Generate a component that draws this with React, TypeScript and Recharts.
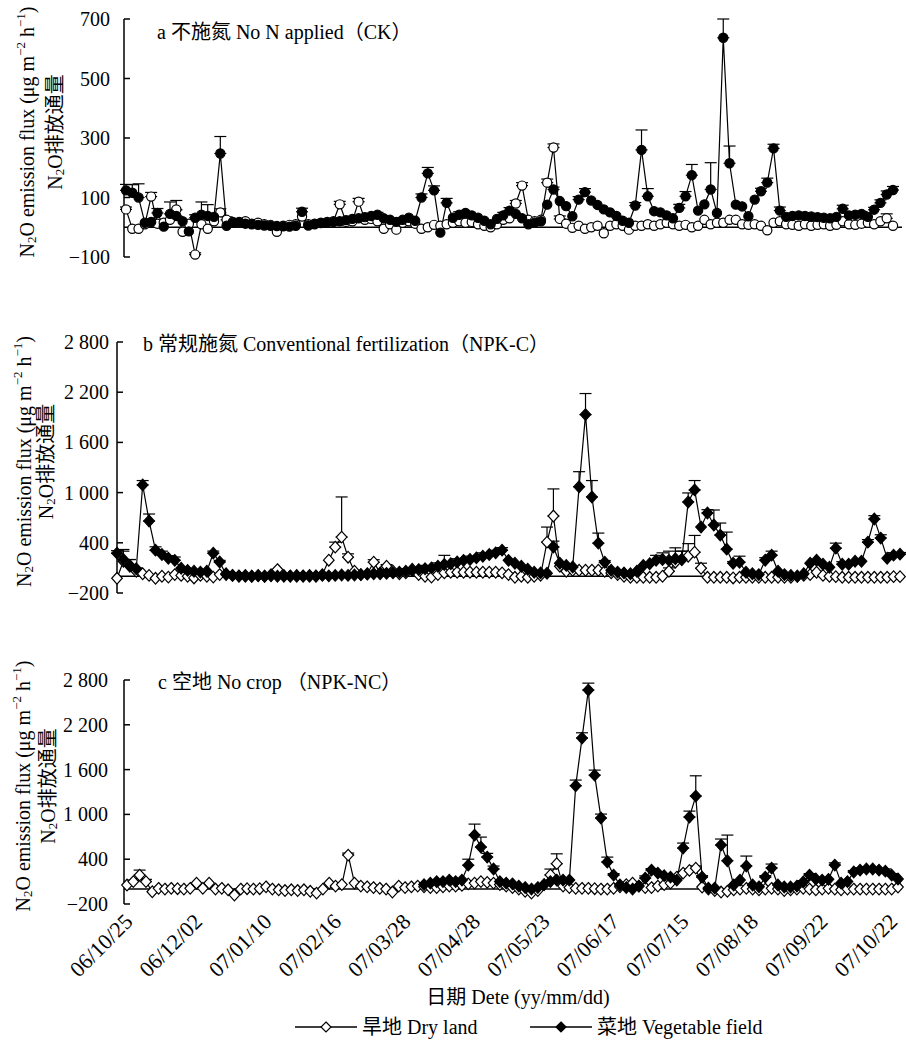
import React from 'react';
import { LineChart, Line, XAxis, YAxis, ReferenceLine, ErrorBar } from 'recharts';

const FONT = '"Liberation Serif", "Times New Roman", "Noto Sans CJK SC", serif';

// x-axis tick labels (one label every 11 sampling events)
const dateLabels = ['06/10/25', '06/12/02', '07/01/10', '07/02/16', '07/03/28', '07/04/28', '07/05/23', '07/06/17', '07/07/15', '07/08/18', '07/09/22', '07/10/22'];
const LABEL_STEP = 11;
const N_SAMPLES = 123;

// ---------- a: No N applied (CK) ----------
const aVeg = [
  124, 116, 100, 15, 18, 48, 2, 45, 38, 20,
  -14, 32, 42, 38, 35, 248, 5, 15, 18, 12,
  10, 8, 6, 5, 4, 3, 2, 5, 52, 6,
  10, 14, 16, 18, 20, 24, 28, 30, 34, 38,
  42, 30, 25, 18, 25, 32, 22, 100, 181, 124,
  -18, 82, 32, 42, 48, 40, 32, 22, 10, 28,
  40, 56, 45, 30, 10, 15, 20, 76, 127, 88,
  71, 37, 93, 118, 90, 75, 60, 50, 38, 22,
  15, 73, 260, 104, 54, 50, 40, 30, 65, 104,
  175, 56, 77, 127, 48, 637, 215, 76, 70, 37,
  93, 121, 150, 265, 56, 35, 38, 40, 38, 36,
  34, 32, 30, 35, 62, 40, 42, 45, 35, 59,
  82, 110, 125,
];
const aDry = [
  60, -5, -5, 10, 103, 12, 15, 25, 60, -15,
  12, -92, 10, -5, 20, 50, 25, 18, 15, 20,
  12, 15, 10, 8, -15, 5, 8, 10, 36, 10,
  12, 15, 18, 20, 77, 18, 20, 86, 25, 28,
  20, -5, 10, -8, 15, 20, 12, -5, 0, 8,
  5, 10, 15, 20, 15, 18, 10, 5, 0, 10,
  25, 30, 80, 140, 25, 20, 25, 150, 268, 28,
  12, -2, 5, -5, 0, 5, -20, 5, 10, 5,
  -8, 5, 5, 10, 5, 10, 15, 10, 5, 8,
  0, 5, 25, 10, 15, 15, 25, 25, 10, 8,
  10, 5, -10, 15, 20, 10, 8, 5, 10, 5,
  8, 10, 5, 8, 20, 10, 8, 12, 15, 10,
  20, 30, 5,
];
const aVegErr: Record<number, number> = { 0: 20, 1: 27, 2: 46, 4: 10, 5: 15, 7: 40, 8: 20, 11: 10, 12: 43, 13: 38, 15: 57, 28: 12, 40: 8, 47: 12, 48: 20, 49: 15, 51: 15, 53: 10, 60: 10, 61: 10, 68: 8, 72: 10, 73: 12, 81: 10, 82: 67, 83: 26, 88: 12, 89: 16, 90: 36, 93: 90, 95: 63, 96: 58, 101: 10, 102: 15, 103: 14, 104: 12, 114: 12, 117: 8, 119: 8, 120: 10, 121: 12, 122: 12 };
const aDryErr: Record<number, number> = { 0: 8, 4: 14, 8: 30, 11: 6, 15: 12, 16: 10, 34: 10, 37: 11, 62: 10, 63: 10, 67: 12, 68: 12, 69: 10, 121: 15 };

// ---------- b: Conventional fertilization (NPK-C) ----------
const bVeg = [
  276, 200, 130, 90, 1092, 660, 312, 260, 216, 190,
  96, 70, 60, 50, 60, 276, 170, 20, 10, 5,
  0, 0, 5, 0, 5, 0, 0, 5, 0, 5,
  0, 5, 10, 5, 10, 15, 10, 15, 20, 25,
  30, 30, 35, 40, 50, 60, 70, 80, 90, 100,
  120, 140, 150, 170, 190, 200, 220, 240, 260, 280,
  312, 190, 156, 120, 84, 48, 40, 36, 350, 156,
  130, 110, 1070, 1932, 948, 396, 168, 72, 50, 40,
  30, 60, 130, 150, 190, 200, 190, 210, 200, 888,
  1032, 588, 756, 612, 492, 324, 156, 168, 48, 30,
  20, 192, 252, 60, 20, 10, 0, 30, 156, 192,
  144, 108, 336, 144, 144, 180, 180, 408, 684, 456,
  216, 252, 264,
];
const bDry = [
  -24, 180, 120, 60, 30, 10, -24, 0, -10, 20,
  10, 0, -20, 10, 0, -10, 20, 30, 10, 0,
  10, 0, 10, 0, 20, 80, 10, 0, 10, 0,
  10, 0, 20, 192, 348, 468, 228, 60, 20, 30,
  168, 40, 120, 60, 30, 40, 84, 20, 0, -10,
  20, 40, 48, 48, 48, 48, 48, 48, 48, 48,
  40, 20, -12, 0, -12, 0, 12, 408, 720, 120,
  60, 72, 72, 72, 72, 72, 60, 40, 20, 0,
  -12, -12, -12, -12, -12, 0, 60, 168, 200, 240,
  288, 96, -12, -12, -12, -12, -20, -12, -12, -12,
  -12, -12, -12, -12, -12, -12, 0, 10, 20, 48,
  10, 0, -5, -12, -12, -12, -12, -12, -12, -12,
  -12, -5, -5,
];
const bVegErr: Record<number, number> = { 0: 30, 1: 100, 2: 70, 4: 52, 5: 84, 6: 40, 7: 40, 8: 30, 9: 40, 15: 25, 16: 20, 40: 20, 45: 30, 48: 40, 50: 40, 51: 110, 53: 40, 55: 40, 57: 40, 59: 30, 60: 30, 68: 70, 72: 180, 73: 252, 74: 196, 75: 120, 76: 20, 84: 60, 85: 80, 86: 110, 87: 130, 88: 100, 89: 108, 90: 112, 92: 40, 93: 180, 94: 144, 95: 204, 96: 20, 97: 72, 101: 30, 102: 48, 112: 60, 113: 30, 117: 30, 118: 40, 119: 40, 121: 30, 122: 20 };
const bDryErr: Record<number, number> = { 1: 140, 2: 80, 3: 40, 34: 60, 35: 480, 36: 40, 40: 30, 42: 20, 67: 180, 68: 324, 86: 40, 87: 60, 88: 100, 89: 150, 90: 200, 91: 60 };

// ---------- c: No crop (NPK-NC) ----------
const cDry = [
  54, 100, 187, 100, -36, 10, 0, 10, 5, 0,
  10, 80, 10, 80, 0, 10, -10, -80, 0, 5,
  0, 5, 30, 0, -10, -20, -10, -20, -10, -30,
  -54, 0, 80, 40, 60, 455, 80, 40, 30, 20,
  10, 0, -40, 40, 20, 30, 40, 30, 20, 20,
  30, 40, 40, 50, 70, 80, 100, 90, 80, 60,
  40, 20, 0, -30, -54, -20, 60, 190, 340, 40,
  20, 10, 10, 10, 5, 0, 0, 10, 30, 60,
  80, 40, 20, 20, 40, 60, 80, 160, 214, 250,
  280, 27, 0, -20, -40, -30, -10, 0, 10, 0,
  -10, 0, 10, 0, -20, -10, 0, 10, 0, -10,
  0, 10, 0, -10, 0, 0, 0, 0, 0, 0,
  0, 0, 27,
];
// vegetable field in panel c starts at sample 47
const cVegStart = 47;
const cVeg = [
  60, 80, 100,
  100, 120, 100, 120, 320, 723, 562, 428, 268, 100,
  80, 70, 40, 20, 0, 20, 60, 100, 120, 120,
  120, 1383, 2022, 2665, 1526, 951, 361, 187, 54, 20,
  0, 40, 147, 254, 214, 180, 160, 120, 549, 964,
  1245, 160, 13, 13, 589, 379, 54, 120, 308, 54,
  30, 160, 281, 54, 27, 27, 40, 94, 187, 134,
  120, 130, 321, 80, 100, 228, 254, 268, 268, 254,
  240, 187, 134,
];
const cVegErr: Record<number, number> = { 54: 80, 55: 147, 56: 134, 57: 50, 58: 40, 59: 15, 71: 77, 72: 71, 73: 93, 74: 67, 75: 53, 76: 67, 77: 20, 82: 30, 83: 20, 88: 67, 89: 80, 90: 272, 91: 20, 94: 81, 95: 344, 98: 134, 101: 20, 102: 54, 107: 20, 108: 20, 112: 30, 115: 20, 116: 30, 117: 30, 118: 20, 120: 30, 121: 20 };
const cDryErr: Record<number, number> = { 1: 20, 2: 67, 3: 30, 35: 27, 67: 78, 68: 132, 88: 20, 89: 20, 90: 30 };

const yTicksA = [-100, 100, 300, 500, 700];
const yTicksBC = [-200, 400, 1000, 1600, 2200, 2800];
const xTicks = dateLabels.map((_, k) => k * LABEL_STEP);

type Row = { i: number; dry: number | null; veg: number | null; dryErr?: number[]; vegErr?: number[] };

function buildRows(dry: number[], veg: number[], dryErr: Record<number, number>, vegErr: Record<number, number>, vegStart = 0): Row[] {
  const rows: Row[] = [];
  for (let i = 0; i < N_SAMPLES; i++) {
    const v = i >= vegStart ? veg[i - vegStart] : null;
    rows.push({
      i,
      dry: dry[i],
      veg: v === undefined ? null : v,
      dryErr: dryErr[i] != null ? [0, dryErr[i]] : undefined,
      vegErr: v != null && vegErr[i] != null ? [0, vegErr[i]] : undefined,
    });
  }
  return rows;
}

const rowsA = buildRows(aDry, aVeg, aDryErr, aVegErr);
const rowsB = buildRows(bDry, bVeg, bDryErr, bVegErr);
const rowsC = buildRows(cDry, cVeg, cDryErr, cVegErr, cVegStart);

const fmtY = (n: number) => {
  if (n < 0) return '\u2212' + Math.abs(n);
  if (n >= 1000) return `${Math.floor(n / 1000)} ${String(n % 1000).padStart(3, '0')}`;
  return String(n);
};

const makeYTick = (gap: number) => (props: any) => {
  const { x, y, payload } = props;
  const ax = x + gap;
  return (
    <g>
      <line x1={ax} x2={ax + 6} y1={y} y2={y} stroke="#000" strokeWidth={1.5} />
      <text x={x} y={y} textAnchor="end" dominantBaseline="central" fontSize={20} fontFamily={FONT} fill="#000">
        {fmtY(payload.value)}
      </text>
    </g>
  );
};

const XTick = (props: any) => {
  const { x, y, payload } = props;
  const label = dateLabels[Math.round(payload.value / LABEL_STEP)];
  const ax = x + 7;
  const ay = y + 19;
  return (
    <text x={ax} y={ay} transform={`rotate(-45, ${ax}, ${ay})`} textAnchor="end" fontSize={22} fontFamily={FONT} fill="#000">
      {label}
    </text>
  );
};

const makeYLabel = (x1: number, x2: number, dy: number) => (props: any) => {
  const vb = props.viewBox || { y: 0, height: 0 };
  const cy = vb.y + vb.height / 2 + dy;
  return (
    <g>
      <text transform={`translate(${x1},${cy}) rotate(-90)`} textAnchor="middle" dominantBaseline="central" fontSize={20} fontFamily={FONT} fill="#000">
        N<tspan dy={4} fontSize={13}>2</tspan>
        <tspan dy={-4}>O emission  flux (μg m</tspan>
        <tspan dy={-7} fontSize={13}>−2</tspan>
        <tspan dy={7}> h</tspan>
        <tspan dy={-7} fontSize={13}>−1</tspan>
        <tspan dy={7}>)</tspan>
      </text>
      <text transform={`translate(${x2},${cy}) rotate(-90)`} textAnchor="middle" dominantBaseline="central" fontSize={20} fontFamily={FONT} fill="#000">
        N<tspan dy={4} fontSize={13}>2</tspan>
        <tspan dy={-4}>O排放通量</tspan>
      </text>
    </g>
  );
};

const makeDot = (shape: 'circle' | 'diamond', filled: boolean) => (props: any) => {
  const { cx, cy, index, value } = props;
  const key = `dot-${index}`;
  if (cx == null || cy == null || value == null) return <g key={key} />;
  const fill = filled ? '#000' : '#fff';
  if (shape === 'circle') {
    return <circle key={key} cx={cx} cy={cy} r={4.6} fill={fill} stroke="#000" strokeWidth={1.2} />;
  }
  const h = 5.8;
  const w = 5.3;
  return <path key={key} d={`M${cx},${cy - h}L${cx + w},${cy}L${cx},${cy + h}L${cx - w},${cy}Z`} fill={fill} stroke="#000" strokeWidth={1.2} />;
};

type PanelProps = {
  rows: Row[];
  top: number;
  height: number;
  margin: { top: number; right: number; bottom: number; left: number };
  domain: [number, number];
  ticks: number[];
  padding: { left: number; right: number };
  shape: 'circle' | 'diamond';
  gap: number;
  labelX: [number, number];
  showX: boolean;
};

function Panel(p: PanelProps) {
  return (
    <div style={{ position: 'absolute', left: 0, top: p.top }}>
      <LineChart width={906} height={p.height} data={p.rows} margin={p.margin}>
        <XAxis
          dataKey="i"
          type="number"
          domain={[0, N_SAMPLES - 1]}
          ticks={xTicks}
          interval={0}
          padding={p.padding}
          hide={!p.showX}
          height={p.showX ? 137 : 0}
          axisLine={false}
          tickLine={false}
          tickSize={0}
          tickMargin={0}
          tick={XTick}
        />
        <YAxis
          type="number"
          domain={p.domain}
          ticks={p.ticks}
          interval={0}
          width={60}
          axisLine={{ stroke: '#000', strokeWidth: 1.5 }}
          tickLine={false}
          tickSize={0}
          tickMargin={p.gap}
          tick={makeYTick(p.gap)}
          label={makeYLabel(p.labelX[0], p.labelX[1], -6)}
        />
        <ReferenceLine y={0} stroke="#000" strokeWidth={1.6} />
        <Line
          dataKey="dry"
          stroke="#000"
          strokeWidth={1.2}
          isAnimationActive={false}
          dot={makeDot(p.shape, false)}
          activeDot={false}
          connectNulls={false}
        >
          <ErrorBar dataKey="dryErr" direction="y" width={6} stroke="#000" strokeWidth={1.2} />
        </Line>
        <Line
          dataKey="veg"
          stroke="#000"
          strokeWidth={1.2}
          isAnimationActive={false}
          dot={makeDot(p.shape, true)}
          activeDot={false}
          connectNulls={false}
        >
          <ErrorBar dataKey="vegErr" direction="y" width={6} stroke="#000" strokeWidth={1.2} />
        </Line>
      </LineChart>
    </div>
  );
}

const textStyle: React.CSSProperties = {
  position: 'absolute',
  fontFamily: FONT,
  fontSize: 20,
  lineHeight: '20px',
  whiteSpace: 'nowrap',
  color: '#000',
};

function LegendIcon({ filled }: { filled: boolean }) {
  return (
    <svg width={62} height={16} style={{ display: 'block' }}>
      <line x1={0} x2={62} y1={8} y2={8} stroke="#000" strokeWidth={1.4} />
      <path d="M31,3L36,8L31,13L26,8Z" fill={filled ? '#000' : '#fff'} stroke="#000" strokeWidth={1.2} />
    </svg>
  );
}

export default function App() {
  return (
    <div style={{ position: 'absolute', left: 0, top: 0, width: 906, height: 1041, background: '#fff', overflow: 'hidden' }}>
      <Panel
        rows={rowsA}
        top={0}
        height={270}
        margin={{ top: 19, right: 4, bottom: 13, left: 64 }}
        domain={[-100, 700]}
        ticks={yTicksA}
        padding={{ left: 2, right: 9 }}
        shape="circle"
        gap={14}
        labelX={[27, 55]}
        showX={false}
      />
      <Panel
        rows={rowsB}
        top={320}
        height={290}
        margin={{ top: 22, right: 1, bottom: 17, left: 57 }}
        domain={[-200, 2800]}
        ticks={yTicksBC}
        padding={{ left: 0, right: 5 }}
        shape="diamond"
        gap={8}
        labelX={[24, 46]}
        showX={false}
      />
      <Panel
        rows={rowsC}
        top={640}
        height={401}
        margin={{ top: 40, right: 4, bottom: 0, left: 64 }}
        domain={[-200, 2800]}
        ticks={yTicksBC}
        padding={{ left: 3, right: 4 }}
        shape="diamond"
        gap={16}
        labelX={[23, 48]}
        showX={true}
      />
      <div style={{ ...textStyle, left: 157, top: 22 }}>a 不施氮 No N applied（CK）</div>
      <div style={{ ...textStyle, left: 143, top: 334 }}>b 常规施氮 Conventional fertilization（NPK-C）</div>
      <div style={{ ...textStyle, left: 158, top: 672 }}>c 空地 No crop （NPK-NC）</div>
      <div style={{ ...textStyle, left: 0, width: 1036, textAlign: 'center', top: 987 }}>日期 Dete (yy/mm/dd)</div>
      <div style={{ position: 'absolute', left: 295, top: 1019 }}>
        <LegendIcon filled={false} />
      </div>
      <div style={{ ...textStyle, left: 362, top: 1017 }}>旱地 Dry land</div>
      <div style={{ position: 'absolute', left: 530, top: 1019 }}>
        <LegendIcon filled={true} />
      </div>
      <div style={{ ...textStyle, left: 597, top: 1017 }}>菜地 Vegetable field</div>
    </div>
  );
}
